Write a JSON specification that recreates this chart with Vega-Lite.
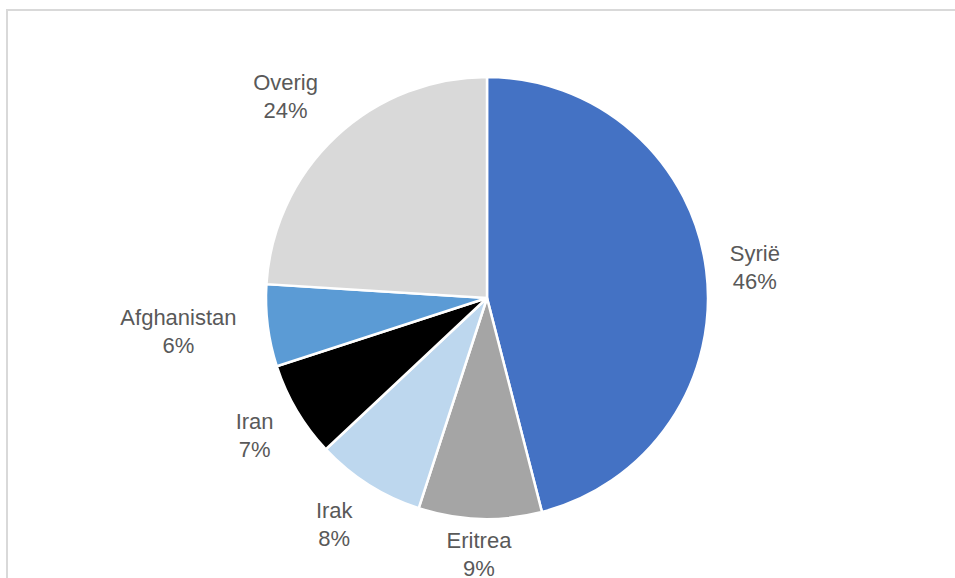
{
  "$schema": "https://vega.github.io/schema/vega-lite/v6.json",
  "autosize": "none",
  "padding": {"left": 7, "top": 10, "right": 0, "bottom": 0},
  "width": 960,
  "height": 576,
  "background": "white",
  "config": {"view": {"stroke": null}},
  "data": {"values": [
    {"idx": 1, "cat": "Syrië", "value": 46},
    {"idx": 2, "cat": "Eritrea", "value": 9},
    {"idx": 3, "cat": "Irak", "value": 8},
    {"idx": 4, "cat": "Iran", "value": 7},
    {"idx": 5, "cat": "Afghanistan", "value": 6},
    {"idx": 6, "cat": "Overig", "value": 24}
  ]},
  "transform": [
    {"stack": "value", "groupby": [], "sort": [{"field": "idx", "order": "ascending"}], "as": ["v0", "v1"]},
    {"calculate": "(datum.v0 + datum.v1) / 2", "as": "mid"},
    {"calculate": "datum.cat + '\\n' + datum.value + '%'", "as": "label"}
  ],
  "layer": [
    {
      "transform": [{"filter": "datum.idx == 1"}],
      "mark": {"type": "rect", "fill": null, "fillOpacity": 0, "stroke": "#D9D9D9", "strokeWidth": 2},
      "encoding": {}
    },
    {
      "mark": {"type": "arc", "outerRadius": 221, "stroke": "white", "strokeWidth": 2.5},
      "encoding": {
        "theta": {"field": "v0", "type": "quantitative", "scale": {"domain": [0, 100]}},
        "theta2": {"field": "v1"},
        "color": {
          "field": "cat", "type": "nominal", "legend": null,
          "scale": {
            "domain": ["Syrië", "Eritrea", "Irak", "Iran", "Afghanistan", "Overig"],
            "range": ["#4472C4", "#A5A5A5", "#BDD7EE", "#000000", "#5B9BD5", "#D9D9D9"]
          }
        }
      }
    },
    {
      "transform": [{"filter": "datum.cat == 'Syrië'"}],
      "mark": {"type": "text", "radius": 270, "dy": -10, "font": "Liberation Sans", "fontSize": 22, "color": "#595959", "lineBreak": "\n", "lineHeight": 28, "align": "center", "baseline": "middle"},
      "encoding": {
        "theta": {"field": "mid", "type": "quantitative"},
        "text": {"field": "label"}
      }
    },
    {
      "transform": [{"filter": "datum.cat == 'Iran'"}],
      "mark": {"type": "text", "radius": 270, "dy": -13, "font": "Liberation Sans", "fontSize": 22, "color": "#595959", "lineBreak": "\n", "lineHeight": 28, "align": "center", "baseline": "middle"},
      "encoding": {
        "theta": {"field": "mid", "type": "quantitative"},
        "text": {"field": "label"}
      }
    },
    {
      "transform": [{"filter": "datum.cat == 'Irak'"}],
      "mark": {"type": "text", "radius": 272, "dx": -7, "dy": -17, "font": "Liberation Sans", "fontSize": 22, "color": "#595959", "lineBreak": "\n", "lineHeight": 28, "align": "center", "baseline": "middle"},
      "encoding": {
        "theta": {"field": "mid", "type": "quantitative"},
        "text": {"field": "label"}
      }
    },
    {
      "transform": [{"filter": "datum.cat == 'Eritrea'"}],
      "mark": {"type": "text", "radius": 256, "dy": -13, "font": "Liberation Sans", "fontSize": 22, "color": "#595959", "lineBreak": "\n", "lineHeight": 28, "align": "center", "baseline": "middle"},
      "encoding": {
        "theta": {"field": "mid", "type": "quantitative"},
        "text": {"field": "label"}
      }
    },
    {
      "transform": [{"filter": "datum.cat == 'Afghanistan'"}],
      "mark": {"type": "text", "radius": 311, "dy": -19, "font": "Liberation Sans", "fontSize": 22, "color": "#595959", "lineBreak": "\n", "lineHeight": 28, "align": "center", "baseline": "middle"},
      "encoding": {
        "theta": {"field": "mid", "type": "quantitative"},
        "text": {"field": "label"}
      }
    },
    {
      "transform": [{"filter": "datum.cat == 'Overig'"}],
      "mark": {"type": "text", "radius": 287, "dx": -5, "dy": -6, "font": "Liberation Sans", "fontSize": 22, "color": "#595959", "lineBreak": "\n", "lineHeight": 28, "align": "center", "baseline": "middle"},
      "encoding": {
        "theta": {"field": "mid", "type": "quantitative"},
        "text": {"field": "label"}
      }
    }
  ]
}
